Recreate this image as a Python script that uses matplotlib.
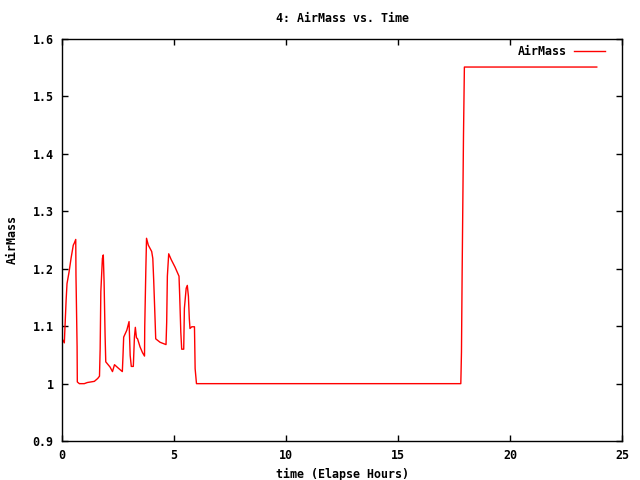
import matplotlib
matplotlib.use("Agg")
import matplotlib.pyplot as plt
from matplotlib.ticker import FuncFormatter

# elapsed time (hours) and airmass
hours = [0.0, 0.10, 0.13, 0.18, 0.22, 0.31, 0.40, 0.50, 0.55, 0.61, 0.62, 0.67, 0.68,
         0.77, 0.99, 1.13, 1.44, 1.59, 1.67, 1.70, 1.73, 1.80, 1.84, 1.875, 1.92, 1.95,
         2.14, 2.25, 2.34, 2.51, 2.69, 2.72, 2.75, 2.89, 2.99, 3.04, 3.09, 3.18, 3.23,
         3.27, 3.32, 3.37, 3.48, 3.59, 3.68, 3.69, 3.74, 3.77, 3.85, 4.00, 4.05, 4.09,
         4.15, 4.18, 4.375, 4.64, 4.67, 4.70, 4.76, 4.87, 5.04, 5.22, 5.25, 5.30, 5.34,
         5.43, 5.46, 5.54, 5.59, 5.64, 5.68, 5.71, 5.79, 5.91, 5.94, 6.00,
         17.80, 17.81, 17.83, 17.86, 17.92, 17.96, 23.87]
airmass = [1.078, 1.071, 1.099, 1.145, 1.174, 1.194, 1.218, 1.241, 1.245, 1.251, 1.189,
           1.065, 1.003, 1.0, 1.0, 1.002, 1.004, 1.009, 1.013, 1.061, 1.160, 1.218, 1.224,
           1.177, 1.084, 1.038, 1.029, 1.021, 1.033, 1.027, 1.021, 1.049, 1.081, 1.093,
           1.108, 1.049, 1.030, 1.030, 1.081, 1.098, 1.080, 1.078, 1.064, 1.054, 1.048,
           1.099, 1.200, 1.253, 1.241, 1.230, 1.218, 1.180, 1.113, 1.078, 1.072, 1.068,
           1.107, 1.187, 1.226, 1.216, 1.203, 1.187, 1.154, 1.090, 1.060, 1.060, 1.131,
           1.166, 1.171, 1.152, 1.113, 1.096, 1.099, 1.099, 1.026, 1.0,
           1.0, 1.017, 1.055, 1.194, 1.431, 1.551, 1.551]

xticks = [0, 5, 10, 15, 20, 25]
yticks = [0.9, 1.0, 1.1, 1.2, 1.3, 1.4, 1.5, 1.6]

font = {"family": "DejaVu Sans Mono", "weight": "bold", "size": 8.4}

fig = plt.figure(figsize=(6.4, 4.8), dpi=100)
ax = fig.add_axes([0.097, 0.081, 0.875, 0.838])

ax.plot(hours, airmass, color="red", linewidth=1, label="AirMass")

ax.set_xlim(0, 25)
ax.set_ylim(0.9, 1.6)
ax.set_xticks(xticks)
ax.set_yticks(yticks)
ax.yaxis.set_major_formatter(FuncFormatter(lambda v, p: "%g" % round(v, 2)))
ax.tick_params(direction="in", length=4, width=1, top=True, right=True, pad=6)
for lab in ax.get_xticklabels() + ax.get_yticklabels():
    lab.set_fontproperties(font)
for sp in ax.spines.values():
    sp.set_linewidth(1)

ax.set_title("4: AirMass vs. Time", fontdict=font, pad=12)
ax.set_xlabel("time (Elapse Hours)", fontdict=font, labelpad=4)
ax.set_ylabel("AirMass", fontdict=font, labelpad=10)

leg = ax.legend(loc="upper right", frameon=False, prop=font,
                markerfirst=False, handlelength=2.7, handletextpad=0.6,
                borderaxespad=0.1, bbox_to_anchor=(0.98, 1.0))

fig.savefig("out.png", dpi=100)
